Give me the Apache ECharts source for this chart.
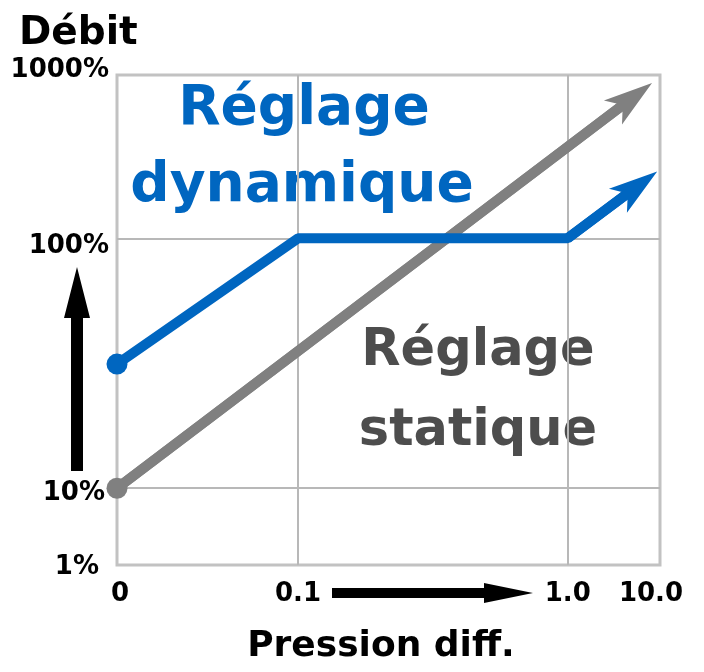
<!DOCTYPE html>
<html>
<head>
<meta charset="utf-8">
<script src="https://cdn.jsdelivr.net/npm/echarts@6/dist/echarts.min.js"></script>
<style>
  html, body { margin: 0; padding: 0; background: #fff; }
  #chart { width: 704px; height: 672px; }
</style>
</head>
<body>
<div id="chart"></div>
<script>
// axes are stretched log scales, so each tick gets its own position value
var xTickValues = [0, 1, 2.49, 3];
var xTickLabels = ['0', '0.1', '1.0', '10.0'];
var yTickValues = [0, 0.47, 2, 3];
var yTickLabels = ['1%', '10%', '100%', '1000%'];

// réglage dynamique / réglage statique (last point = end of the shaft, the head sits on it)
var dynamicPoints = [[0, 1.23], [1, 2], [2.49, 2], [2.876, 2.32]];
var staticPoints = [[0, 0.47], [2.848, 2.861]];

var FONT = 'DejaVu Sans';
var BLUE = '#0066c0';
var GREY = '#808080';
// swept arrow head, tip up, centred on the end of the line
var ARROW = 'path://M15,0L30,48L15,36L0,48Z';

function tickIndex(vals, v) {
    var best = 0;
    for (var i = 1; i < vals.length; i++) {
        if (Math.abs(vals[i] - v) < Math.abs(vals[best] - v)) best = i;
    }
    return best;
}

// first point gets the round dot, the others none
function withStartDot(points) {
    return points.map(function (p, i) {
        return i === 0 ? { value: p, symbol: 'circle', symbolSize: 21 } : { value: p, symbol: 'none' };
    });
}

// last segment, drawn again with the arrow head
function lastSegment(points) {
    return [{ coords: points.slice(points.length - 2) }];
}

var labelBase = { color: '#000', fontSize: 26, fontWeight: 'bold', fontFamily: FONT };

var chart = echarts.init(document.getElementById('chart'));

var option = {
    animation: false,
    grid: {
        left: 117, top: 75, right: 44, bottom: 107,
        show: true,
        borderColor: '#c2c2c2',
        borderWidth: 3
    },
    xAxis: {
        type: 'value',
        min: 0, max: 3,
        axisLine: { show: false },
        axisTick: { show: false },
        splitLine: { show: false },
        axisLabel: {
            customValues: xTickValues,
            margin: 16,
            color: '#000',
            fontSize: 26,
            fontWeight: 'bold',
            fontFamily: FONT,
            formatter: function (v) {
                var i = tickIndex(xTickValues, v);
                var tag = ['x0', 'n', 'n', 'x3'][i];
                return '{' + tag + '|' + xTickLabels[i] + '}';
            },
            rich: {
                n: labelBase,
                x0: Object.assign({ padding: [0, 0, 0, 6] }, labelBase),
                x3: Object.assign({ padding: [0, 18, 0, 0] }, labelBase)
            }
        }
    },
    yAxis: {
        type: 'value',
        min: 0, max: 3,
        axisLine: { show: false },
        axisTick: { show: false },
        splitLine: { show: false },
        axisLabel: {
            customValues: yTickValues,
            margin: 8,
            color: '#000',
            fontSize: 26,
            fontWeight: 'bold',
            fontFamily: FONT,
            formatter: function (v) {
                var i = tickIndex(yTickValues, v);
                var tag = ['y0', 'y1', 'y2', 'y3'][i];
                return '{' + tag + '|' + yTickLabels[i] + '}';
            },
            rich: {
                y0: Object.assign({ padding: [4, 10, 0, 0] }, labelBase),
                y1: Object.assign({ padding: [10, 4, 0, 0] }, labelBase),
                y2: Object.assign({ padding: [16, 0, 0, 0] }, labelBase),
                y3: Object.assign({ padding: [0, 0, 10, 0] }, labelBase)
            }
        }
    },
    series: [
        {
            // only carries the inner grid lines
            type: 'line',
            data: [],
            z: 1,
            markLine: {
                silent: true,
                z: 1,
                symbol: 'none',
                label: { show: false },
                lineStyle: { color: '#b8b8b8', width: 2, type: 'solid' },
                data: [
                    { xAxis: xTickValues[1] },
                    { xAxis: xTickValues[2] },
                    { yAxis: yTickValues[1] },
                    { yAxis: yTickValues[2] }
                ]
            }
        },
        {
            name: 'Réglage statique',
            type: 'line',
            z: 3,
            lineStyle: { color: GREY, width: 10 },
            itemStyle: { color: GREY },
            data: withStartDot(staticPoints)
        },
        {
            type: 'lines',
            coordinateSystem: 'cartesian2d',
            z: 3,
            symbol: ['none', ARROW],
            symbolSize: [0, [30, 49]],
            lineStyle: { color: GREY, width: 10, opacity: 1 },
            itemStyle: { color: GREY },
            data: lastSegment(staticPoints)
        },
        {
            name: 'Réglage dynamique',
            type: 'line',
            z: 4,
            lineStyle: { color: BLUE, width: 10 },
            itemStyle: { color: BLUE },
            data: withStartDot(dynamicPoints)
        },
        {
            type: 'lines',
            coordinateSystem: 'cartesian2d',
            z: 4,
            symbol: ['none', ARROW],
            symbolSize: [0, [30, 49]],
            lineStyle: { color: BLUE, width: 10, opacity: 1 },
            itemStyle: { color: BLUE },
            data: lastSegment(dynamicPoints)
        }
    ],
    graphic: [
        {
            type: 'text', left: 19, top: 14,
            style: { text: 'Débit', fill: '#000', font: 'bold 39px ' + FONT }
        },
        {
            type: 'text', x: 381, y: 647,
            style: { text: 'Pression diff.', fill: '#000', font: 'bold 36px ' + FONT, align: 'center', verticalAlign: 'middle' }
        },
        {
            type: 'text', x: 304, y: 110,
            style: { text: 'Réglage', fill: BLUE, font: 'bold 55px ' + FONT, align: 'center', verticalAlign: 'middle' }
        },
        {
            type: 'text', x: 302, y: 187,
            style: { text: 'dynamique', fill: BLUE, font: 'bold 55px ' + FONT, align: 'center', verticalAlign: 'middle' }
        },
        {
            type: 'text', x: 478, y: 352,
            style: { text: 'Réglage', fill: '#4d4d4d', font: 'bold 51px ' + FONT, align: 'center', verticalAlign: 'middle' }
        },
        {
            type: 'text', x: 478, y: 432,
            style: { text: 'statique', fill: '#4d4d4d', font: 'bold 51px ' + FONT, align: 'center', verticalAlign: 'middle' }
        },
        {
            // flèche débit
            type: 'polygon',
            shape: { points: [[71, 471], [83, 471], [83, 318], [90, 318], [77, 267], [64, 318], [71, 318]] },
            style: { fill: '#000' }
        },
        {
            // flèche pression
            type: 'polygon',
            shape: { points: [[332, 588], [484, 588], [484, 583], [533, 593], [484, 603], [484, 598], [332, 598]] },
            style: { fill: '#000' }
        }
    ]
};

chart.setOption(option);
</script>
</body>
</html>
